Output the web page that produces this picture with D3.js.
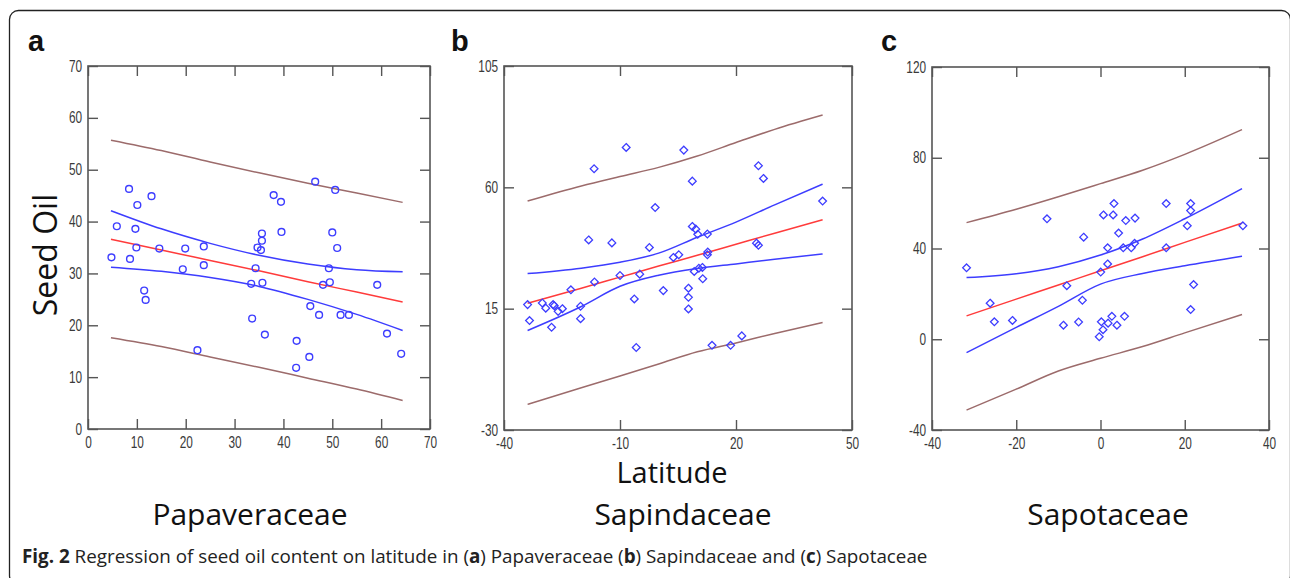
<!DOCTYPE html>
<html>
<head>
<meta charset="utf-8">
<script src="https://cdn.jsdelivr.net/npm/d3@7"></script>
<style>
  body { margin: 0; background: #fff; }
  svg { display: block; }
</style>
</head>
<body>
<div id="chart"></div>
<script>
// ---- data ----

// (a) Papaveraceae
var papaverLat = [4.8,5.9,8.4,8.6,10.1,9.7,9.9,13.0,11.5,11.8,14.6,19.9,19.4,22.4,23.7,23.7,33.4,33.6,34.3,34.7,35.4,35.6,35.6,35.7,36.2,38.0,39.5,39.6,42.7,42.6,45.3,45.5,46.5,47.3,48.1,49.3,49.5,50.0,50.6,51.0,51.7,53.4,59.2,61.2,64.1];
var papaverOil = [33.1,39.1,46.3,32.8,43.2,38.6,35.0,44.9,26.7,24.9,34.8,34.8,30.8,15.2,35.2,31.6,28.0,21.3,31.0,35.0,34.5,36.3,37.7,28.2,18.2,45.1,43.8,38.0,17.0,11.8,13.9,23.7,47.7,22.0,27.8,31.0,28.3,37.9,46.1,34.9,22.0,22.0,27.8,18.4,14.5];
var papaverBandX = [4.7, 15, 25, 35, 45, 55, 64.4];
var papaverFit   = [36.6, 34.5, 32.5, 30.5, 28.4, 26.4, 24.5];
var papaverCiUp  = [42.1, 38.6, 35.8, 33.5, 31.8, 30.7, 30.3];
var papaverCiLo  = [31.2, 30.4, 29.2, 27.5, 25.0, 22.1, 19.0];
var papaverPiUp  = [55.7, 53.7, 51.5, 49.4, 47.4, 45.5, 43.7];
var papaverPiLo  = [17.6, 15.9, 13.9, 11.9, 9.8, 7.7, 5.5];
var papaverXTicks = [0, 10, 20, 30, 40, 50, 60, 70];
var papaverYTicks = [0, 10, 20, 30, 40, 50, 60, 70];

// (b) Sapindaceae
var sapindLat = [-33.9,-33.4,-30.1,-29.2,-27.7,-27.3,-27.0,-26.0,-24.9,-22.7,-20.2,-20.2,-18.1,-16.7,-16.6,-12.1,-10.0,-8.4,-6.3,-5.8,-4.9,-2.4,-0.9,1.2,3.8,5.2,6.5,7.7,7.7,7.7,8.7,8.7,9.2,9.6,10.1,10.4,11.3,11.4,12.6,12.6,12.7,13.8,18.6,21.5,25.3,25.8,25.8,27.1,42.4];
var sapindOil = [16.5,10.6,17.1,15.2,8.1,16.5,16.1,14.0,15.0,22.0,15.9,11.3,40.5,66.9,24.9,39.4,27.3,74.8,18.6,0.6,27.8,37.7,52.5,21.7,34.0,35.0,73.8,22.6,19.2,14.9,62.3,45.5,28.8,44.5,42.6,30.0,30.3,26.1,42.7,35.0,36.0,1.4,1.4,4.9,39.3,38.5,68.0,63.3,54.9];
var sapindBandX = [-33.9, -20, -10, 0, 10, 20, 30, 42.4];
var sapindFit   = [17.0, 22.6, 26.7, 30.8, 34.8, 38.9, 43.0, 48.0];
var sapindCiUp  = [28.0, 30.0, 32.2, 35.6, 41.5, 47.1, 53.5, 61.2];
var sapindCiLo  = [6.9, 15.8, 23.3, 27.4, 29.9, 31.6, 33.3, 35.3];
var sapindPiUp  = [54.9, 60.5, 64.0, 67.4, 71.6, 76.6, 81.5, 86.8];
var sapindPiLo  = [-20.5, -14.3, -10.0, -5.5, -1.0, 2.3, 5.8, 9.9];
var sapindXTicks = [-40, -10, 20, 50];
var sapindYTicks = [-30, 15, 60, 105];

// (c) Sapotaceae
var sapotLat = [-31.8,-26.2,-25.2,-20.9,-12.7,-8.8,-8.0,-5.2,-4.3,-4.0,-0.3,0.05,0.2,0.6,0.7,1.7,1.7,1.8,2.7,3.0,3.2,3.9,4.3,5.4,5.7,6.0,7.3,8.1,8.2,15.6,15.6,20.6,21.4,21.4,21.4,22.1,33.8];
var sapotOil = [31.5,15.9,7.7,8.3,53.1,6.2,23.6,7.6,17.2,45.0,1.1,29.6,7.7,4.2,54.8,40.3,33.2,7.1,10.1,54.8,59.8,6.2,46.8,40.3,10.1,52.3,40.3,42.3,53.4,59.8,40.3,50.0,59.8,56.7,13.1,24.1,50.0];
var sapotBandX = [-31.8, -20, -10, 0, 10, 20, 33.6];
var sapotFit   = [10.3, 17.7, 23.9, 30.2, 36.4, 42.7, 51.2];
var sapotCiUp  = [27.2, 28.9, 32.0, 37.1, 44.2, 53.1, 66.4];
var sapotCiLo  = [-5.9, 5.2, 14.5, 24.3, 29.0, 32.4, 36.6];
var sapotPiUp  = [51.4, 57.3, 62.8, 68.6, 74.5, 81.5, 92.4];
var sapotPiLo  = [-31.2, -22.0, -14.0, -8.4, -3.2, 2.8, 10.9];
var sapotXTicks = [-40, -20, 0, 20, 40];
var sapotYTicks = [-40, 0, 40, 80, 120];

var caption = "Regression of seed oil content on latitude in ";

// ---- panel setup ----
var panels = [
  { letter: "a", name: "Papaveraceae", box: {x0: 88, x1: 430, y0: 66, y1: 429},
    xTicks: papaverXTicks, yTicks: papaverYTicks, lat: papaverLat, oil: papaverOil,
    bandX: papaverBandX, fit: papaverFit, ciUp: papaverCiUp, ciLo: papaverCiLo, piUp: papaverPiUp, piLo: papaverPiLo,
    marker: "circle", letterX: 28, nameX: 250 },
  { letter: "b", name: "Sapindaceae", box: {x0: 504, x1: 852, y0: 66, y1: 430},
    xTicks: sapindXTicks, yTicks: sapindYTicks, lat: sapindLat, oil: sapindOil,
    bandX: sapindBandX, fit: sapindFit, ciUp: sapindCiUp, ciLo: sapindCiLo, piUp: sapindPiUp, piLo: sapindPiLo,
    marker: "diamond", letterX: 451, nameX: 683 },
  { letter: "c", name: "Sapotaceae", box: {x0: 932, x1: 1269, y0: 67, y1: 430},
    xTicks: sapotXTicks, yTicks: sapotYTicks, lat: sapotLat, oil: sapotOil,
    bandX: sapotBandX, fit: sapotFit, ciUp: sapotCiUp, ciLo: sapotCiLo, piUp: sapotPiUp, piLo: sapotPiLo,
    marker: "diamond", letterX: 881, nameX: 1108 }
];

var width = 1290, height = 578;
var blue = "#3d3dff", red = "#ff3b3b", brown = "#9c6b6b", axisCol = "#555";

// plain hyphen minus like the original MATLAB labels
var fmt = function(d) { return String(d); };

var svg = d3.select("#chart").append("svg")
    .attr("width", width)
    .attr("height", height);

svg.append("rect").attr("width", width).attr("height", height).attr("fill", "#fff");

// outer frame
svg.append("rect")
    .attr("x", 9.5).attr("y", 10.5)
    .attr("width", 1281).attr("height", 574)
    .attr("rx", 9)
    .attr("fill", "none")
    .attr("stroke", "#222")
    .attr("stroke-width", 1.3);

panels.forEach(function(p) {
  var b = p.box;
  var x = d3.scaleLinear().domain(d3.extent(p.xTicks)).range([b.x0, b.x1]);
  var y = d3.scaleLinear().domain(d3.extent(p.yTicks)).range([b.y1, b.y0]);
  var g = svg.append("g");

  // axes, ticks pointing inward
  var tickFont = function(sel) {
    sel.select(".domain").remove();
    sel.selectAll(".tick line").attr("stroke", axisCol).attr("stroke-width", 1.4);
    sel.selectAll(".tick text")
      .attr("fill", "#3a3a3a")
      .style("font-family", "'Liberation Sans', Arial, sans-serif")
      .style("font-size", "16px")
      .attr("transform", "scale(0.74,1)");
  };

  g.append("g").attr("transform", "translate(0," + b.y1 + ")")
    .call(d3.axisBottom(x).tickValues(p.xTicks).tickFormat(fmt).tickSizeInner(-10).tickSizeOuter(0).tickPadding(8))
    .call(tickFont);
  g.append("g").attr("transform", "translate(" + b.x0 + ",0)")
    .call(d3.axisLeft(y).tickValues(p.yTicks).tickFormat(fmt).tickSizeInner(-10).tickSizeOuter(0).tickPadding(8))
    .call(tickFont);
  g.append("g").attr("transform", "translate(0," + b.y0 + ")")
    .call(d3.axisTop(x).tickValues(p.xTicks).tickSizeInner(-10).tickSizeOuter(0).tickFormat(""))
    .call(tickFont);
  g.append("g").attr("transform", "translate(" + b.x1 + ",0)")
    .call(d3.axisRight(y).tickValues(p.yTicks).tickSizeInner(-10).tickSizeOuter(0).tickFormat(""))
    .call(tickFont);

  g.append("rect")
    .attr("x", b.x0).attr("y", b.y0)
    .attr("width", b.x1 - b.x0).attr("height", b.y1 - b.y0)
    .attr("fill", "none").attr("stroke", axisCol).attr("stroke-width", 1.6);

  // bands and fit
  var line = d3.line()
    .x(function(d) { return x(d[0]); })
    .y(function(d) { return y(d[1]); })
    .curve(d3.curveMonotoneX);
  var series = [
    { v: p.piUp, c: brown }, { v: p.piLo, c: brown },
    { v: p.ciUp, c: blue },  { v: p.ciLo, c: blue },
    { v: p.fit,  c: red }
  ];
  series.forEach(function(s) {
    g.append("path")
      .datum(d3.zip(p.bandX, s.v))
      .attr("d", line)
      .attr("fill", "none")
      .attr("stroke", s.c)
      .attr("stroke-width", 1.5);
  });

  // points
  var pts = d3.zip(p.lat, p.oil);
  if (p.marker === "circle") {
    g.selectAll("circle.pt").data(pts).enter().append("circle")
      .attr("class", "pt")
      .attr("cx", function(d) { return x(d[0]); })
      .attr("cy", function(d) { return y(d[1]); })
      .attr("r", 3.4)
      .attr("fill", "none")
      .attr("stroke", blue)
      .attr("stroke-width", 1.4);
  } else {
    var sym = d3.symbol().type(d3.symbolDiamond2).size(38);
    g.selectAll("path.pt").data(pts).enter().append("path")
      .attr("class", "pt")
      .attr("transform", function(d) { return "translate(" + x(d[0]) + "," + y(d[1]) + ")"; })
      .attr("d", sym)
      .attr("fill", "none")
      .attr("stroke", blue)
      .attr("stroke-width", 1.3);
  }

  // panel letter
  svg.append("text")
    .attr("x", p.letterX).attr("y", 51)
    .style("font-family", "'Liberation Sans', Arial, sans-serif")
    .style("font-weight", "bold")
    .style("font-size", "29px")
    .attr("fill", "#111")
    .text(p.letter);

  // family name
  svg.append("text")
    .attr("x", p.nameX).attr("y", 525)
    .attr("text-anchor", "middle")
    .style("font-family", "'Open Sans', 'Noto Sans', sans-serif")
    .style("font-size", "30px")
    .attr("fill", "#111")
    .text(p.name);
});

// axis titles
svg.append("text")
  .attr("transform", "translate(57,255) rotate(-90)")
  .attr("text-anchor", "middle")
  .style("font-family", "'Open Sans', 'Noto Sans', sans-serif")
  .style("font-size", "32px")
  .attr("fill", "#111")
  .text("Seed Oil");

svg.append("text")
  .attr("x", 672).attr("y", 483)
  .attr("text-anchor", "middle")
  .style("font-family", "'Open Sans', 'Noto Sans', sans-serif")
  .style("font-size", "29px")
  .attr("fill", "#111")
  .text("Latitude");

// caption
var cap = svg.append("text")
  .attr("x", 22).attr("y", 563)
  .style("font-family", "'Open Sans', 'Noto Sans', sans-serif")
  .style("font-size", "15px")
  .attr("fill", "#222");
cap.append("tspan").style("font-weight", "bold").text("Fig. 2");
cap.append("tspan").text(" " + caption + "(");
cap.append("tspan").style("font-weight", "bold").text("a");
cap.append("tspan").text(") Papaveraceae (");
cap.append("tspan").style("font-weight", "bold").text("b");
cap.append("tspan").text(") Sapindaceae and (");
cap.append("tspan").style("font-weight", "bold").text("c");
cap.append("tspan").text(") Sapotaceae");
// fit the caption to the width it has in the figure
var capW = cap.node().getComputedTextLength();
cap.style("font-size", (15 * 906 / capW).toFixed(2) + "px");
</script>
</body>
</html>
